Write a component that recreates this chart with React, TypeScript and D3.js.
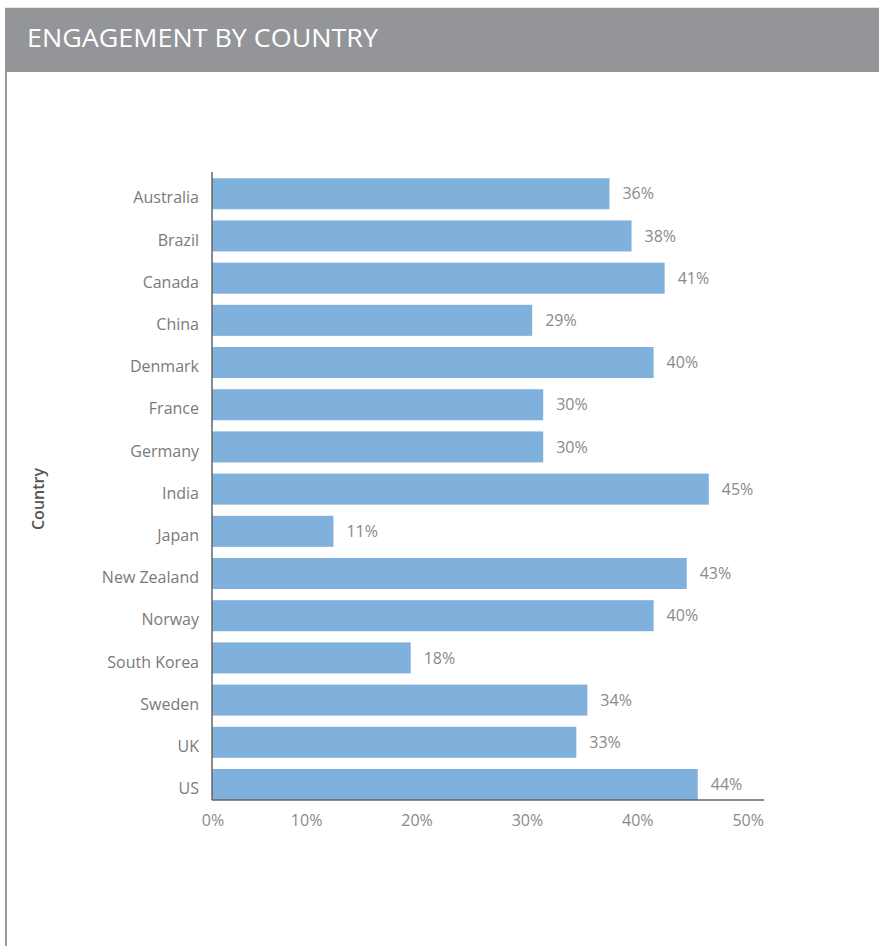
import React from "react";
import * as d3 from "d3";

const countries = ["Australia","Brazil","Canada","China","Denmark","France","Germany","India","Japan","New Zealand","Norway","South Korea","Sweden","UK","US"];
const engagement = [36,38,41,29,40,30,30,45,11,43,40,18,34,33,44];
const xTicks = [0,10,20,30,40,50];
const title = "ENGAGEMENT BY COUNTRY";
const yTitle = "Country";

const W = 879, H = 946;
const left = 212, right = 764, top = 172, bottom = 800;
const font = "'Open Sans', 'DejaVu Sans', sans-serif";

export default function App() {
  const x = d3.scaleLinear().domain([0, 50]).range([left, right]);
  const y = d3.scaleBand<string>().domain(countries).range([top, bottom]).paddingInner(0.265).paddingOuter(0.074).align(1);
  return (
    <svg width={W} height={H} style={{ position: "absolute", left: 0, top: 0, background: "#fff" }}>
      <rect x={5} y={7} width={W - 5} height={1} fill="#e6e6e6" />
      <rect x={5} y={8} width={W - 5} height={64} fill="#939598" />
      <rect x={5} y={72} width={2} height={H - 72} fill="#9a9a9c" />
      <text x={27} y={47} fill="#fff" fontFamily={font} fontSize={25} fontWeight={500} textLength={351} lengthAdjust="spacingAndGlyphs">{title}</text>
      <text transform={`translate(44,499) rotate(-90)`} textAnchor="middle" fill="#555" fontFamily={font} fontSize={16} fontWeight={600}>{yTitle}</text>
      {countries.map((c, i) => (
        <g key={c}>
          <rect x={x(0)} y={y(c)} width={x(engagement[i]) - x(0)} height={y.bandwidth()} fill="#80b0dc" />
          <text x={x(engagement[i]) + 13} y={(y(c) as number) + y.bandwidth() / 2} dy="0.35em" fill="#8a8a8a" fontFamily={font} fontSize={16}>{engagement[i]}%</text>
          <text x={199} y={(y(c) as number) + y.bandwidth() / 2 + 4} dy="0.35em" textAnchor="end" fill="#7a7a7a" fontFamily={font} fontSize={16}>{c}</text>
        </g>
      ))}
      <line x1={left} x2={left} y1={top} y2={bottom} stroke="#666" strokeWidth={1.5} />
      <line x1={left} x2={right} y1={bottom} y2={bottom} stroke="#666" strokeWidth={1.5} />
      {xTicks.map((t) => (
        <text key={t} x={t === 0 ? x(t) + 1 : x(t)} y={820} dy="0.35em" textAnchor={t === 0 ? "middle" : "end"} fill="#8a8a8a" fontFamily={font} fontSize={16}>{t}%</text>
      ))}
    </svg>
  );
}
